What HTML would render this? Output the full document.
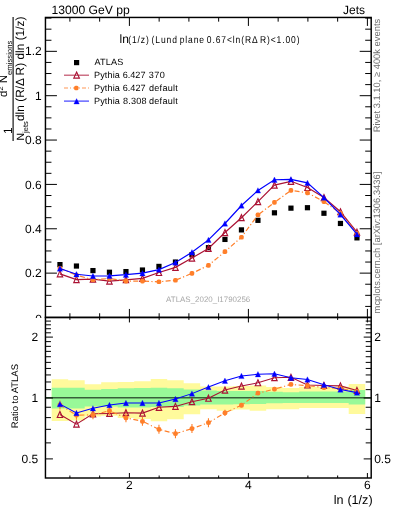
<!DOCTYPE html>
<html><head><meta charset="utf-8"><style>
html,body{margin:0;padding:0;background:#fff;width:393px;height:512px;overflow:hidden}
svg{display:block;will-change:transform;text-rendering:geometricPrecision}
</style></head><body>
<svg width="393" height="512" viewBox="0 0 393 512">
<rect width="393" height="512" fill="#fff"/>
<path d="M51.70,379.20 L68.20,379.20 L68.20,380.20 L84.70,380.20 L84.70,384.20 L101.20,384.20 L101.20,382.20 L117.70,382.20 L117.70,381.90 L134.20,381.90 L134.20,381.20 L150.70,381.20 L150.70,379.10 L167.20,379.10 L167.20,380.30 L183.70,380.30 L183.70,383.30 L200.20,383.30 L200.20,386.40 L216.70,386.40 L216.70,386.40 L233.20,386.40 L233.20,386.00 L249.70,386.00 L249.70,385.60 L266.20,385.60 L266.20,387.10 L282.70,387.10 L282.70,387.90 L299.20,387.90 L299.20,386.80 L315.70,386.80 L315.70,386.80 L332.20,386.80 L332.20,386.80 L348.70,386.80 L348.70,384.00 L365.20,384.00 L365.20,414.00 L348.70,414.00 L348.70,408.00 L332.20,408.00 L332.20,408.00 L315.70,408.00 L315.70,408.00 L299.20,408.00 L299.20,409.30 L282.70,409.30 L282.70,409.30 L266.20,409.30 L266.20,410.80 L249.70,410.80 L249.70,409.50 L233.20,409.50 L233.20,410.80 L216.70,410.80 L216.70,409.30 L200.20,409.30 L200.20,414.30 L183.70,414.30 L183.70,419.20 L167.20,419.20 L167.20,421.20 L150.70,421.20 L150.70,419.00 L134.20,419.00 L134.20,418.00 L117.70,418.00 L117.70,415.80 L101.20,415.80 L101.20,416.50 L84.70,416.50 L84.70,420.50 L68.20,420.50 L68.20,420.90 L51.70,420.90 Z" fill="#fffa9c"/>
<path d="M51.70,387.80 L68.20,387.80 L68.20,387.80 L84.70,387.80 L84.70,389.80 L101.20,389.80 L101.20,389.10 L117.70,389.10 L117.70,388.30 L134.20,388.30 L134.20,388.10 L150.70,388.10 L150.70,387.80 L167.20,387.80 L167.20,388.20 L183.70,388.20 L183.70,389.40 L200.20,389.40 L200.20,390.60 L216.70,390.60 L216.70,391.00 L233.20,391.00 L233.20,391.00 L249.70,391.00 L249.70,391.00 L266.20,391.00 L266.20,391.70 L282.70,391.70 L282.70,392.20 L299.20,392.20 L299.20,391.60 L315.70,391.60 L315.70,391.60 L332.20,391.60 L332.20,391.60 L348.70,391.60 L348.70,390.10 L365.20,390.10 L365.20,404.40 L348.70,404.40 L348.70,403.00 L332.20,403.00 L332.20,403.00 L315.70,403.00 L315.70,403.00 L299.20,403.00 L299.20,402.90 L282.70,402.90 L282.70,403.20 L266.20,403.20 L266.20,403.90 L249.70,403.90 L249.70,404.20 L233.20,404.20 L233.20,404.40 L216.70,404.40 L216.70,404.40 L200.20,404.40 L200.20,405.50 L183.70,405.50 L183.70,407.00 L167.20,407.00 L167.20,407.00 L150.70,407.00 L150.70,407.50 L134.20,407.50 L134.20,407.50 L117.70,407.50 L117.70,406.60 L101.20,406.60 L101.20,406.50 L84.70,406.50 L84.70,408.50 L68.20,408.50 L68.20,408.50 L51.70,408.50 Z" fill="#98f998"/>
<line x1="45.45" y1="397.7" x2="371.2" y2="397.7" stroke="#37603a" stroke-width="1.35"/>
<rect x="45.45" y="17.45" width="325.75" height="300.0" fill="none" stroke="#000" stroke-width="1.45"/>
<rect x="45.45" y="317.45" width="325.75" height="160.55" fill="none" stroke="#000" stroke-width="1.45"/>
<line x1="69.90" y1="317.45" x2="69.90" y2="313.25" stroke="#000" stroke-width="1"/>
<line x1="69.90" y1="17.45" x2="69.90" y2="21.65" stroke="#000" stroke-width="1"/>
<line x1="69.90" y1="317.45" x2="69.90" y2="319.95" stroke="#000" stroke-width="1"/>
<line x1="69.90" y1="478.0" x2="69.90" y2="475.5" stroke="#000" stroke-width="1"/>
<line x1="99.65" y1="317.45" x2="99.65" y2="313.25" stroke="#000" stroke-width="1"/>
<line x1="99.65" y1="17.45" x2="99.65" y2="21.65" stroke="#000" stroke-width="1"/>
<line x1="99.65" y1="317.45" x2="99.65" y2="319.95" stroke="#000" stroke-width="1"/>
<line x1="99.65" y1="478.0" x2="99.65" y2="475.5" stroke="#000" stroke-width="1"/>
<line x1="129.40" y1="317.45" x2="129.40" y2="308.95" stroke="#000" stroke-width="1"/>
<line x1="129.40" y1="17.45" x2="129.40" y2="25.95" stroke="#000" stroke-width="1"/>
<line x1="129.40" y1="317.45" x2="129.40" y2="322.45" stroke="#000" stroke-width="1"/>
<line x1="129.40" y1="478.0" x2="129.40" y2="473.0" stroke="#000" stroke-width="1"/>
<line x1="159.15" y1="317.45" x2="159.15" y2="313.25" stroke="#000" stroke-width="1"/>
<line x1="159.15" y1="17.45" x2="159.15" y2="21.65" stroke="#000" stroke-width="1"/>
<line x1="159.15" y1="317.45" x2="159.15" y2="319.95" stroke="#000" stroke-width="1"/>
<line x1="159.15" y1="478.0" x2="159.15" y2="475.5" stroke="#000" stroke-width="1"/>
<line x1="188.90" y1="317.45" x2="188.90" y2="313.25" stroke="#000" stroke-width="1"/>
<line x1="188.90" y1="17.45" x2="188.90" y2="21.65" stroke="#000" stroke-width="1"/>
<line x1="188.90" y1="317.45" x2="188.90" y2="319.95" stroke="#000" stroke-width="1"/>
<line x1="188.90" y1="478.0" x2="188.90" y2="475.5" stroke="#000" stroke-width="1"/>
<line x1="218.65" y1="317.45" x2="218.65" y2="313.25" stroke="#000" stroke-width="1"/>
<line x1="218.65" y1="17.45" x2="218.65" y2="21.65" stroke="#000" stroke-width="1"/>
<line x1="218.65" y1="317.45" x2="218.65" y2="319.95" stroke="#000" stroke-width="1"/>
<line x1="218.65" y1="478.0" x2="218.65" y2="475.5" stroke="#000" stroke-width="1"/>
<line x1="248.40" y1="317.45" x2="248.40" y2="308.95" stroke="#000" stroke-width="1"/>
<line x1="248.40" y1="17.45" x2="248.40" y2="25.95" stroke="#000" stroke-width="1"/>
<line x1="248.40" y1="317.45" x2="248.40" y2="322.45" stroke="#000" stroke-width="1"/>
<line x1="248.40" y1="478.0" x2="248.40" y2="473.0" stroke="#000" stroke-width="1"/>
<line x1="278.15" y1="317.45" x2="278.15" y2="313.25" stroke="#000" stroke-width="1"/>
<line x1="278.15" y1="17.45" x2="278.15" y2="21.65" stroke="#000" stroke-width="1"/>
<line x1="278.15" y1="317.45" x2="278.15" y2="319.95" stroke="#000" stroke-width="1"/>
<line x1="278.15" y1="478.0" x2="278.15" y2="475.5" stroke="#000" stroke-width="1"/>
<line x1="307.90" y1="317.45" x2="307.90" y2="313.25" stroke="#000" stroke-width="1"/>
<line x1="307.90" y1="17.45" x2="307.90" y2="21.65" stroke="#000" stroke-width="1"/>
<line x1="307.90" y1="317.45" x2="307.90" y2="319.95" stroke="#000" stroke-width="1"/>
<line x1="307.90" y1="478.0" x2="307.90" y2="475.5" stroke="#000" stroke-width="1"/>
<line x1="337.65" y1="317.45" x2="337.65" y2="313.25" stroke="#000" stroke-width="1"/>
<line x1="337.65" y1="17.45" x2="337.65" y2="21.65" stroke="#000" stroke-width="1"/>
<line x1="337.65" y1="317.45" x2="337.65" y2="319.95" stroke="#000" stroke-width="1"/>
<line x1="337.65" y1="478.0" x2="337.65" y2="475.5" stroke="#000" stroke-width="1"/>
<line x1="367.40" y1="317.45" x2="367.40" y2="308.95" stroke="#000" stroke-width="1"/>
<line x1="367.40" y1="17.45" x2="367.40" y2="25.95" stroke="#000" stroke-width="1"/>
<line x1="367.40" y1="317.45" x2="367.40" y2="322.45" stroke="#000" stroke-width="1"/>
<line x1="367.40" y1="478.0" x2="367.40" y2="473.0" stroke="#000" stroke-width="1"/>
<line x1="45.45" y1="317.50" x2="56.95" y2="317.50" stroke="#000" stroke-width="1"/>
<line x1="371.2" y1="317.50" x2="359.7" y2="317.50" stroke="#000" stroke-width="1"/>
<clipPath id="c0"><rect x="0" y="0" width="45" height="318"/></clipPath>
<text x="41.85" y="322.5" font-family="Liberation Sans, sans-serif" font-size="12" text-anchor="end" clip-path="url(#c0)">0</text>
<line x1="45.45" y1="306.41" x2="51.45" y2="306.41" stroke="#000" stroke-width="1"/>
<line x1="371.2" y1="306.41" x2="365.2" y2="306.41" stroke="#000" stroke-width="1"/>
<line x1="45.45" y1="295.32" x2="51.45" y2="295.32" stroke="#000" stroke-width="1"/>
<line x1="371.2" y1="295.32" x2="365.2" y2="295.32" stroke="#000" stroke-width="1"/>
<line x1="45.45" y1="284.23" x2="51.45" y2="284.23" stroke="#000" stroke-width="1"/>
<line x1="371.2" y1="284.23" x2="365.2" y2="284.23" stroke="#000" stroke-width="1"/>
<line x1="45.45" y1="273.14" x2="56.95" y2="273.14" stroke="#000" stroke-width="1"/>
<line x1="371.2" y1="273.14" x2="359.7" y2="273.14" stroke="#000" stroke-width="1"/>
<text x="41.650000000000006" y="277.24" font-family="Liberation Sans, sans-serif" font-size="12" text-anchor="end">0.2</text>
<line x1="45.45" y1="262.05" x2="51.45" y2="262.05" stroke="#000" stroke-width="1"/>
<line x1="371.2" y1="262.05" x2="365.2" y2="262.05" stroke="#000" stroke-width="1"/>
<line x1="45.45" y1="250.96" x2="51.45" y2="250.96" stroke="#000" stroke-width="1"/>
<line x1="371.2" y1="250.96" x2="365.2" y2="250.96" stroke="#000" stroke-width="1"/>
<line x1="45.45" y1="239.87" x2="51.45" y2="239.87" stroke="#000" stroke-width="1"/>
<line x1="371.2" y1="239.87" x2="365.2" y2="239.87" stroke="#000" stroke-width="1"/>
<line x1="45.45" y1="228.78" x2="56.95" y2="228.78" stroke="#000" stroke-width="1"/>
<line x1="371.2" y1="228.78" x2="359.7" y2="228.78" stroke="#000" stroke-width="1"/>
<text x="41.650000000000006" y="232.88" font-family="Liberation Sans, sans-serif" font-size="12" text-anchor="end">0.4</text>
<line x1="45.45" y1="217.69" x2="51.45" y2="217.69" stroke="#000" stroke-width="1"/>
<line x1="371.2" y1="217.69" x2="365.2" y2="217.69" stroke="#000" stroke-width="1"/>
<line x1="45.45" y1="206.60" x2="51.45" y2="206.60" stroke="#000" stroke-width="1"/>
<line x1="371.2" y1="206.60" x2="365.2" y2="206.60" stroke="#000" stroke-width="1"/>
<line x1="45.45" y1="195.51" x2="51.45" y2="195.51" stroke="#000" stroke-width="1"/>
<line x1="371.2" y1="195.51" x2="365.2" y2="195.51" stroke="#000" stroke-width="1"/>
<line x1="45.45" y1="184.42" x2="56.95" y2="184.42" stroke="#000" stroke-width="1"/>
<line x1="371.2" y1="184.42" x2="359.7" y2="184.42" stroke="#000" stroke-width="1"/>
<text x="41.650000000000006" y="188.52" font-family="Liberation Sans, sans-serif" font-size="12" text-anchor="end">0.6</text>
<line x1="45.45" y1="173.33" x2="51.45" y2="173.33" stroke="#000" stroke-width="1"/>
<line x1="371.2" y1="173.33" x2="365.2" y2="173.33" stroke="#000" stroke-width="1"/>
<line x1="45.45" y1="162.24" x2="51.45" y2="162.24" stroke="#000" stroke-width="1"/>
<line x1="371.2" y1="162.24" x2="365.2" y2="162.24" stroke="#000" stroke-width="1"/>
<line x1="45.45" y1="151.15" x2="51.45" y2="151.15" stroke="#000" stroke-width="1"/>
<line x1="371.2" y1="151.15" x2="365.2" y2="151.15" stroke="#000" stroke-width="1"/>
<line x1="45.45" y1="140.06" x2="56.95" y2="140.06" stroke="#000" stroke-width="1"/>
<line x1="371.2" y1="140.06" x2="359.7" y2="140.06" stroke="#000" stroke-width="1"/>
<text x="41.650000000000006" y="144.16" font-family="Liberation Sans, sans-serif" font-size="12" text-anchor="end">0.8</text>
<line x1="45.45" y1="128.97" x2="51.45" y2="128.97" stroke="#000" stroke-width="1"/>
<line x1="371.2" y1="128.97" x2="365.2" y2="128.97" stroke="#000" stroke-width="1"/>
<line x1="45.45" y1="117.88" x2="51.45" y2="117.88" stroke="#000" stroke-width="1"/>
<line x1="371.2" y1="117.88" x2="365.2" y2="117.88" stroke="#000" stroke-width="1"/>
<line x1="45.45" y1="106.79" x2="51.45" y2="106.79" stroke="#000" stroke-width="1"/>
<line x1="371.2" y1="106.79" x2="365.2" y2="106.79" stroke="#000" stroke-width="1"/>
<line x1="45.45" y1="95.70" x2="56.95" y2="95.70" stroke="#000" stroke-width="1"/>
<line x1="371.2" y1="95.70" x2="359.7" y2="95.70" stroke="#000" stroke-width="1"/>
<text x="41.650000000000006" y="99.80" font-family="Liberation Sans, sans-serif" font-size="12" text-anchor="end">1</text>
<line x1="45.45" y1="84.61" x2="51.45" y2="84.61" stroke="#000" stroke-width="1"/>
<line x1="371.2" y1="84.61" x2="365.2" y2="84.61" stroke="#000" stroke-width="1"/>
<line x1="45.45" y1="73.52" x2="51.45" y2="73.52" stroke="#000" stroke-width="1"/>
<line x1="371.2" y1="73.52" x2="365.2" y2="73.52" stroke="#000" stroke-width="1"/>
<line x1="45.45" y1="62.43" x2="51.45" y2="62.43" stroke="#000" stroke-width="1"/>
<line x1="371.2" y1="62.43" x2="365.2" y2="62.43" stroke="#000" stroke-width="1"/>
<line x1="45.45" y1="51.34" x2="56.95" y2="51.34" stroke="#000" stroke-width="1"/>
<line x1="371.2" y1="51.34" x2="359.7" y2="51.34" stroke="#000" stroke-width="1"/>
<text x="41.650000000000006" y="55.44" font-family="Liberation Sans, sans-serif" font-size="12" text-anchor="end">1.2</text>
<line x1="45.45" y1="40.25" x2="51.45" y2="40.25" stroke="#000" stroke-width="1"/>
<line x1="371.2" y1="40.25" x2="365.2" y2="40.25" stroke="#000" stroke-width="1"/>
<line x1="45.45" y1="29.16" x2="51.45" y2="29.16" stroke="#000" stroke-width="1"/>
<line x1="371.2" y1="29.16" x2="365.2" y2="29.16" stroke="#000" stroke-width="1"/>
<line x1="45.45" y1="18.07" x2="51.45" y2="18.07" stroke="#000" stroke-width="1"/>
<line x1="371.2" y1="18.07" x2="365.2" y2="18.07" stroke="#000" stroke-width="1"/>
<line x1="45.45" y1="458.90" x2="52.95" y2="458.90" stroke="#000" stroke-width="1"/>
<line x1="371.2" y1="458.90" x2="363.7" y2="458.90" stroke="#000" stroke-width="1"/>
<text x="38.150000000000006" y="462.50" font-family="Liberation Sans, sans-serif" font-size="12" text-anchor="end">0.5</text>
<text x="374.2" y="462.50" font-family="Liberation Sans, sans-serif" font-size="12">0.5</text>
<line x1="45.45" y1="442.88" x2="50.95" y2="442.88" stroke="#000" stroke-width="1"/>
<line x1="371.2" y1="442.88" x2="365.7" y2="442.88" stroke="#000" stroke-width="1"/>
<line x1="45.45" y1="429.34" x2="50.95" y2="429.34" stroke="#000" stroke-width="1"/>
<line x1="371.2" y1="429.34" x2="365.7" y2="429.34" stroke="#000" stroke-width="1"/>
<line x1="45.45" y1="417.61" x2="50.95" y2="417.61" stroke="#000" stroke-width="1"/>
<line x1="371.2" y1="417.61" x2="365.7" y2="417.61" stroke="#000" stroke-width="1"/>
<line x1="45.45" y1="407.26" x2="50.95" y2="407.26" stroke="#000" stroke-width="1"/>
<line x1="371.2" y1="407.26" x2="365.7" y2="407.26" stroke="#000" stroke-width="1"/>
<line x1="45.45" y1="398.00" x2="52.95" y2="398.00" stroke="#000" stroke-width="1"/>
<line x1="371.2" y1="398.00" x2="363.7" y2="398.00" stroke="#000" stroke-width="1"/>
<text x="38.150000000000006" y="401.60" font-family="Liberation Sans, sans-serif" font-size="12" text-anchor="end">1</text>
<text x="374.2" y="401.60" font-family="Liberation Sans, sans-serif" font-size="12">1</text>
<line x1="45.45" y1="389.63" x2="50.95" y2="389.63" stroke="#000" stroke-width="1"/>
<line x1="371.2" y1="389.63" x2="365.7" y2="389.63" stroke="#000" stroke-width="1"/>
<line x1="45.45" y1="381.98" x2="50.95" y2="381.98" stroke="#000" stroke-width="1"/>
<line x1="371.2" y1="381.98" x2="365.7" y2="381.98" stroke="#000" stroke-width="1"/>
<line x1="45.45" y1="374.95" x2="50.95" y2="374.95" stroke="#000" stroke-width="1"/>
<line x1="371.2" y1="374.95" x2="365.7" y2="374.95" stroke="#000" stroke-width="1"/>
<line x1="45.45" y1="368.44" x2="50.95" y2="368.44" stroke="#000" stroke-width="1"/>
<line x1="371.2" y1="368.44" x2="365.7" y2="368.44" stroke="#000" stroke-width="1"/>
<line x1="45.45" y1="362.38" x2="50.95" y2="362.38" stroke="#000" stroke-width="1"/>
<line x1="371.2" y1="362.38" x2="365.7" y2="362.38" stroke="#000" stroke-width="1"/>
<line x1="45.45" y1="356.71" x2="50.95" y2="356.71" stroke="#000" stroke-width="1"/>
<line x1="371.2" y1="356.71" x2="365.7" y2="356.71" stroke="#000" stroke-width="1"/>
<line x1="45.45" y1="351.38" x2="50.95" y2="351.38" stroke="#000" stroke-width="1"/>
<line x1="371.2" y1="351.38" x2="365.7" y2="351.38" stroke="#000" stroke-width="1"/>
<line x1="45.45" y1="346.36" x2="50.95" y2="346.36" stroke="#000" stroke-width="1"/>
<line x1="371.2" y1="346.36" x2="365.7" y2="346.36" stroke="#000" stroke-width="1"/>
<line x1="45.45" y1="341.61" x2="50.95" y2="341.61" stroke="#000" stroke-width="1"/>
<line x1="371.2" y1="341.61" x2="365.7" y2="341.61" stroke="#000" stroke-width="1"/>
<line x1="45.45" y1="337.10" x2="52.95" y2="337.10" stroke="#000" stroke-width="1"/>
<line x1="371.2" y1="337.10" x2="363.7" y2="337.10" stroke="#000" stroke-width="1"/>
<text x="38.150000000000006" y="340.70" font-family="Liberation Sans, sans-serif" font-size="12" text-anchor="end">2</text>
<text x="374.2" y="340.70" font-family="Liberation Sans, sans-serif" font-size="12">2</text>
<line x1="45.45" y1="332.81" x2="50.95" y2="332.81" stroke="#000" stroke-width="1"/>
<line x1="371.2" y1="332.81" x2="365.7" y2="332.81" stroke="#000" stroke-width="1"/>
<line x1="45.45" y1="328.73" x2="50.95" y2="328.73" stroke="#000" stroke-width="1"/>
<line x1="371.2" y1="328.73" x2="365.7" y2="328.73" stroke="#000" stroke-width="1"/>
<line x1="45.45" y1="324.82" x2="50.95" y2="324.82" stroke="#000" stroke-width="1"/>
<line x1="371.2" y1="324.82" x2="365.7" y2="324.82" stroke="#000" stroke-width="1"/>
<line x1="45.45" y1="321.08" x2="50.95" y2="321.08" stroke="#000" stroke-width="1"/>
<line x1="371.2" y1="321.08" x2="365.7" y2="321.08" stroke="#000" stroke-width="1"/>
<text x="129.40" y="489" font-family="Liberation Sans, sans-serif" font-size="12" text-anchor="middle">2</text>
<text x="248.40" y="489" font-family="Liberation Sans, sans-serif" font-size="12" text-anchor="middle">4</text>
<text x="367.40" y="489" font-family="Liberation Sans, sans-serif" font-size="12" text-anchor="middle">6</text>
<text x="372.6" y="503.6" font-family="Liberation Sans, sans-serif" font-size="12.6" word-spacing="0.3" text-anchor="end">ln (1/z)</text>
<rect x="57.35" y="262.00" width="5.2" height="5.2" fill="#000"/>
<rect x="73.85" y="263.44" width="5.2" height="5.2" fill="#000"/>
<rect x="90.35" y="267.99" width="5.2" height="5.2" fill="#000"/>
<rect x="106.85" y="269.65" width="5.2" height="5.2" fill="#000"/>
<rect x="123.35" y="268.99" width="5.2" height="5.2" fill="#000"/>
<rect x="139.85" y="267.43" width="5.2" height="5.2" fill="#000"/>
<rect x="156.35" y="263.80" width="5.2" height="5.2" fill="#000"/>
<rect x="172.85" y="259.45" width="5.2" height="5.2" fill="#000"/>
<rect x="189.35" y="252.13" width="5.2" height="5.2" fill="#000"/>
<rect x="205.85" y="245.03" width="5.2" height="5.2" fill="#000"/>
<rect x="222.35" y="236.83" width="5.2" height="5.2" fill="#000"/>
<rect x="238.85" y="227.29" width="5.2" height="5.2" fill="#000"/>
<rect x="255.35" y="217.75" width="5.2" height="5.2" fill="#000"/>
<rect x="271.85" y="210.21" width="5.2" height="5.2" fill="#000"/>
<rect x="288.35" y="205.55" width="5.2" height="5.2" fill="#000"/>
<rect x="304.85" y="205.11" width="5.2" height="5.2" fill="#000"/>
<rect x="321.35" y="210.65" width="5.2" height="5.2" fill="#000"/>
<rect x="337.85" y="220.86" width="5.2" height="5.2" fill="#000"/>
<rect x="354.35" y="235.27" width="5.2" height="5.2" fill="#000"/>
<polyline points="59.95,273.81 76.45,279.57 92.95,279.13 109.45,281.12 125.95,279.79 142.45,278.31 158.95,272.47 175.45,267.37 191.95,258.06 208.45,248.41 224.95,232.55 241.45,217.69 257.95,201.59 274.45,185.09 290.95,181.31 307.45,187.53 323.95,197.59 340.45,211.79 356.95,232.20" fill="none" stroke="#aa1133" stroke-width="1.2"/>
<polygon points="59.95,270.81 62.65,276.81 57.25,276.81" fill="none" stroke="#aa1133" stroke-width="1.15" stroke-linejoin="miter"/>
<polygon points="76.45,276.57 79.15,282.57 73.75,282.57" fill="none" stroke="#aa1133" stroke-width="1.15" stroke-linejoin="miter"/>
<polygon points="92.95,276.13 95.65,282.13 90.25,282.13" fill="none" stroke="#aa1133" stroke-width="1.15" stroke-linejoin="miter"/>
<polygon points="109.45,278.12 112.15,284.12 106.75,284.12" fill="none" stroke="#aa1133" stroke-width="1.15" stroke-linejoin="miter"/>
<polygon points="125.95,276.79 128.65,282.79 123.25,282.79" fill="none" stroke="#aa1133" stroke-width="1.15" stroke-linejoin="miter"/>
<polygon points="142.45,275.31 145.15,281.31 139.75,281.31" fill="none" stroke="#aa1133" stroke-width="1.15" stroke-linejoin="miter"/>
<polygon points="158.95,269.47 161.65,275.47 156.25,275.47" fill="none" stroke="#aa1133" stroke-width="1.15" stroke-linejoin="miter"/>
<polygon points="175.45,264.37 178.15,270.37 172.75,270.37" fill="none" stroke="#aa1133" stroke-width="1.15" stroke-linejoin="miter"/>
<polygon points="191.95,255.06 194.65,261.06 189.25,261.06" fill="none" stroke="#aa1133" stroke-width="1.15" stroke-linejoin="miter"/>
<polygon points="208.45,245.41 211.15,251.41 205.75,251.41" fill="none" stroke="#aa1133" stroke-width="1.15" stroke-linejoin="miter"/>
<polygon points="224.95,229.55 227.65,235.55 222.25,235.55" fill="none" stroke="#aa1133" stroke-width="1.15" stroke-linejoin="miter"/>
<polygon points="241.45,214.69 244.15,220.69 238.75,220.69" fill="none" stroke="#aa1133" stroke-width="1.15" stroke-linejoin="miter"/>
<polygon points="257.95,198.59 260.65,204.59 255.25,204.59" fill="none" stroke="#aa1133" stroke-width="1.15" stroke-linejoin="miter"/>
<polygon points="274.45,182.09 277.15,188.09 271.75,188.09" fill="none" stroke="#aa1133" stroke-width="1.15" stroke-linejoin="miter"/>
<polygon points="290.95,178.31 293.65,184.31 288.25,184.31" fill="none" stroke="#aa1133" stroke-width="1.15" stroke-linejoin="miter"/>
<polygon points="307.45,184.53 310.15,190.53 304.75,190.53" fill="none" stroke="#aa1133" stroke-width="1.15" stroke-linejoin="miter"/>
<polygon points="323.95,194.59 326.65,200.59 321.25,200.59" fill="none" stroke="#aa1133" stroke-width="1.15" stroke-linejoin="miter"/>
<polygon points="340.45,208.79 343.15,214.79 337.75,214.79" fill="none" stroke="#aa1133" stroke-width="1.15" stroke-linejoin="miter"/>
<polygon points="356.95,229.20 359.65,235.20 354.25,235.20" fill="none" stroke="#aa1133" stroke-width="1.15" stroke-linejoin="miter"/>
<polyline points="59.95,268.26 76.45,275.14 92.95,279.79 109.45,278.46 125.95,281.12 142.45,281.12 158.95,281.79 175.45,280.24 191.95,273.36 208.45,265.38 224.95,251.63 241.45,237.21 257.95,214.90 274.45,202.39 290.95,190.41 307.45,192.85 323.95,201.59 340.45,213.25 356.95,233.22" fill="none" stroke="#ff7f2a" stroke-width="1.2" stroke-dasharray="5,2.3,1.2,2.3"/>
<rect x="57.65" y="265.96" width="4.6" height="4.6" rx="1.6" fill="#ff7f2a"/>
<rect x="74.15" y="272.84" width="4.6" height="4.6" rx="1.6" fill="#ff7f2a"/>
<rect x="90.65" y="277.49" width="4.6" height="4.6" rx="1.6" fill="#ff7f2a"/>
<rect x="107.15" y="276.16" width="4.6" height="4.6" rx="1.6" fill="#ff7f2a"/>
<rect x="123.65" y="278.82" width="4.6" height="4.6" rx="1.6" fill="#ff7f2a"/>
<rect x="140.15" y="278.82" width="4.6" height="4.6" rx="1.6" fill="#ff7f2a"/>
<rect x="156.65" y="279.49" width="4.6" height="4.6" rx="1.6" fill="#ff7f2a"/>
<rect x="173.15" y="277.94" width="4.6" height="4.6" rx="1.6" fill="#ff7f2a"/>
<rect x="189.65" y="271.06" width="4.6" height="4.6" rx="1.6" fill="#ff7f2a"/>
<rect x="206.15" y="263.08" width="4.6" height="4.6" rx="1.6" fill="#ff7f2a"/>
<rect x="222.65" y="249.33" width="4.6" height="4.6" rx="1.6" fill="#ff7f2a"/>
<rect x="239.15" y="234.91" width="4.6" height="4.6" rx="1.6" fill="#ff7f2a"/>
<rect x="255.65" y="212.60" width="4.6" height="4.6" rx="1.6" fill="#ff7f2a"/>
<rect x="272.15" y="200.09" width="4.6" height="4.6" rx="1.6" fill="#ff7f2a"/>
<rect x="288.65" y="188.11" width="4.6" height="4.6" rx="1.6" fill="#ff7f2a"/>
<rect x="305.15" y="190.55" width="4.6" height="4.6" rx="1.6" fill="#ff7f2a"/>
<rect x="321.65" y="199.29" width="4.6" height="4.6" rx="1.6" fill="#ff7f2a"/>
<rect x="338.15" y="210.95" width="4.6" height="4.6" rx="1.6" fill="#ff7f2a"/>
<rect x="354.65" y="230.92" width="4.6" height="4.6" rx="1.6" fill="#ff7f2a"/>
<polyline points="59.95,268.48 76.45,274.25 92.95,276.02 109.45,275.80 125.95,274.69 142.45,273.21 158.95,269.59 175.45,262.49 191.95,252.29 208.45,239.87 224.95,223.46 241.45,205.49 257.95,190.41 274.45,179.76 290.95,179.32 307.45,182.87 323.95,197.59 340.45,214.50 356.95,234.19" fill="none" stroke="#0000ff" stroke-width="1.2"/>
<polygon points="59.95,265.78 62.65,271.18 57.25,271.18" fill="#0000ff" stroke="#0000ff" stroke-width="0.3" stroke-linejoin="miter"/>
<polygon points="76.45,271.55 79.15,276.95 73.75,276.95" fill="#0000ff" stroke="#0000ff" stroke-width="0.3" stroke-linejoin="miter"/>
<polygon points="92.95,273.32 95.65,278.72 90.25,278.72" fill="#0000ff" stroke="#0000ff" stroke-width="0.3" stroke-linejoin="miter"/>
<polygon points="109.45,273.10 112.15,278.50 106.75,278.50" fill="#0000ff" stroke="#0000ff" stroke-width="0.3" stroke-linejoin="miter"/>
<polygon points="125.95,271.99 128.65,277.39 123.25,277.39" fill="#0000ff" stroke="#0000ff" stroke-width="0.3" stroke-linejoin="miter"/>
<polygon points="142.45,270.51 145.15,275.91 139.75,275.91" fill="#0000ff" stroke="#0000ff" stroke-width="0.3" stroke-linejoin="miter"/>
<polygon points="158.95,266.89 161.65,272.29 156.25,272.29" fill="#0000ff" stroke="#0000ff" stroke-width="0.3" stroke-linejoin="miter"/>
<polygon points="175.45,259.79 178.15,265.19 172.75,265.19" fill="#0000ff" stroke="#0000ff" stroke-width="0.3" stroke-linejoin="miter"/>
<polygon points="191.95,249.59 194.65,254.99 189.25,254.99" fill="#0000ff" stroke="#0000ff" stroke-width="0.3" stroke-linejoin="miter"/>
<polygon points="208.45,237.17 211.15,242.57 205.75,242.57" fill="#0000ff" stroke="#0000ff" stroke-width="0.3" stroke-linejoin="miter"/>
<polygon points="224.95,220.76 227.65,226.16 222.25,226.16" fill="#0000ff" stroke="#0000ff" stroke-width="0.3" stroke-linejoin="miter"/>
<polygon points="241.45,202.79 244.15,208.19 238.75,208.19" fill="#0000ff" stroke="#0000ff" stroke-width="0.3" stroke-linejoin="miter"/>
<polygon points="257.95,187.71 260.65,193.11 255.25,193.11" fill="#0000ff" stroke="#0000ff" stroke-width="0.3" stroke-linejoin="miter"/>
<polygon points="274.45,177.06 277.15,182.46 271.75,182.46" fill="#0000ff" stroke="#0000ff" stroke-width="0.3" stroke-linejoin="miter"/>
<polygon points="290.95,176.62 293.65,182.02 288.25,182.02" fill="#0000ff" stroke="#0000ff" stroke-width="0.3" stroke-linejoin="miter"/>
<polygon points="307.45,180.17 310.15,185.57 304.75,185.57" fill="#0000ff" stroke="#0000ff" stroke-width="0.3" stroke-linejoin="miter"/>
<polygon points="323.95,194.89 326.65,200.29 321.25,200.29" fill="#0000ff" stroke="#0000ff" stroke-width="0.3" stroke-linejoin="miter"/>
<polygon points="340.45,211.80 343.15,217.20 337.75,217.20" fill="#0000ff" stroke="#0000ff" stroke-width="0.3" stroke-linejoin="miter"/>
<polygon points="356.95,231.49 359.65,236.89 354.25,236.89" fill="#0000ff" stroke="#0000ff" stroke-width="0.3" stroke-linejoin="miter"/>
<polyline points="59.95,414.48 76.45,424.10 92.95,413.84 109.45,413.42 125.95,412.69 142.45,413.11 158.95,407.35 175.45,406.38 191.95,401.68 208.45,398.26 224.95,390.11 241.45,386.10 257.95,382.79 274.45,377.69 290.95,377.35 307.45,384.96 323.95,385.42 340.45,385.87 356.95,390.51" fill="none" stroke="#aa1133" stroke-width="1.05"/>
<polygon points="59.95,411.48 62.65,417.48 57.25,417.48" fill="none" stroke="#aa1133" stroke-width="1.15" stroke-linejoin="miter"/>
<polygon points="76.45,421.10 79.15,427.10 73.75,427.10" fill="none" stroke="#aa1133" stroke-width="1.15" stroke-linejoin="miter"/>
<polygon points="92.95,410.84 95.65,416.84 90.25,416.84" fill="none" stroke="#aa1133" stroke-width="1.15" stroke-linejoin="miter"/>
<polygon points="109.45,410.42 112.15,416.42 106.75,416.42" fill="none" stroke="#aa1133" stroke-width="1.15" stroke-linejoin="miter"/>
<polygon points="125.95,409.69 128.65,415.69 123.25,415.69" fill="none" stroke="#aa1133" stroke-width="1.15" stroke-linejoin="miter"/>
<polygon points="142.45,410.11 145.15,416.11 139.75,416.11" fill="none" stroke="#aa1133" stroke-width="1.15" stroke-linejoin="miter"/>
<polygon points="158.95,404.35 161.65,410.35 156.25,410.35" fill="none" stroke="#aa1133" stroke-width="1.15" stroke-linejoin="miter"/>
<polygon points="175.45,403.38 178.15,409.38 172.75,409.38" fill="none" stroke="#aa1133" stroke-width="1.15" stroke-linejoin="miter"/>
<polygon points="191.95,398.68 194.65,404.68 189.25,404.68" fill="none" stroke="#aa1133" stroke-width="1.15" stroke-linejoin="miter"/>
<polygon points="208.45,395.26 211.15,401.26 205.75,401.26" fill="none" stroke="#aa1133" stroke-width="1.15" stroke-linejoin="miter"/>
<polygon points="224.95,387.11 227.65,393.11 222.25,393.11" fill="none" stroke="#aa1133" stroke-width="1.15" stroke-linejoin="miter"/>
<polygon points="241.45,383.10 244.15,389.10 238.75,389.10" fill="none" stroke="#aa1133" stroke-width="1.15" stroke-linejoin="miter"/>
<polygon points="257.95,379.79 260.65,385.79 255.25,385.79" fill="none" stroke="#aa1133" stroke-width="1.15" stroke-linejoin="miter"/>
<polygon points="274.45,374.69 277.15,380.69 271.75,380.69" fill="none" stroke="#aa1133" stroke-width="1.15" stroke-linejoin="miter"/>
<polygon points="290.95,374.35 293.65,380.35 288.25,380.35" fill="none" stroke="#aa1133" stroke-width="1.15" stroke-linejoin="miter"/>
<polygon points="307.45,381.96 310.15,387.96 304.75,387.96" fill="none" stroke="#aa1133" stroke-width="1.15" stroke-linejoin="miter"/>
<polygon points="323.95,382.42 326.65,388.42 321.25,388.42" fill="none" stroke="#aa1133" stroke-width="1.15" stroke-linejoin="miter"/>
<polygon points="340.45,382.87 343.15,388.87 337.75,388.87" fill="none" stroke="#aa1133" stroke-width="1.15" stroke-linejoin="miter"/>
<polygon points="356.95,387.51 359.65,393.51 354.25,393.51" fill="none" stroke="#aa1133" stroke-width="1.15" stroke-linejoin="miter"/>
<polyline points="59.95,404.94 76.45,415.22 92.95,414.80 109.45,410.74 125.95,417.83 142.45,421.31 158.95,429.34 175.45,433.71 191.95,428.59 208.45,422.69 224.95,412.90 241.45,405.23 257.95,393.21 274.45,389.15 290.95,384.43 307.45,385.72 323.95,387.50 340.45,388.51 356.95,391.56" fill="none" stroke="#ff7f2a" stroke-width="1.1" stroke-dasharray="5,2.5,1.2,2.5"/>
<line x1="59.95" y1="400.44" x2="59.95" y2="409.44" stroke="#ff7f2a" stroke-width="1.1"/>
<rect x="57.55" y="402.54" width="4.8" height="4.8" rx="2" fill="#ff7f2a"/>
<line x1="76.45" y1="410.72" x2="76.45" y2="419.72" stroke="#ff7f2a" stroke-width="1.1"/>
<rect x="74.05" y="412.82" width="4.8" height="4.8" rx="2" fill="#ff7f2a"/>
<line x1="92.95" y1="410.30" x2="92.95" y2="419.30" stroke="#ff7f2a" stroke-width="1.1"/>
<rect x="90.55" y="412.40" width="4.8" height="4.8" rx="2" fill="#ff7f2a"/>
<line x1="109.45" y1="406.24" x2="109.45" y2="415.24" stroke="#ff7f2a" stroke-width="1.1"/>
<rect x="107.05" y="408.34" width="4.8" height="4.8" rx="2" fill="#ff7f2a"/>
<line x1="125.95" y1="413.33" x2="125.95" y2="422.33" stroke="#ff7f2a" stroke-width="1.1"/>
<rect x="123.55" y="415.43" width="4.8" height="4.8" rx="2" fill="#ff7f2a"/>
<line x1="142.45" y1="416.81" x2="142.45" y2="425.81" stroke="#ff7f2a" stroke-width="1.1"/>
<rect x="140.05" y="418.91" width="4.8" height="4.8" rx="2" fill="#ff7f2a"/>
<line x1="158.95" y1="424.84" x2="158.95" y2="433.84" stroke="#ff7f2a" stroke-width="1.1"/>
<rect x="156.55" y="426.94" width="4.8" height="4.8" rx="2" fill="#ff7f2a"/>
<line x1="175.45" y1="429.21" x2="175.45" y2="438.21" stroke="#ff7f2a" stroke-width="1.1"/>
<rect x="173.05" y="431.31" width="4.8" height="4.8" rx="2" fill="#ff7f2a"/>
<line x1="191.95" y1="424.09" x2="191.95" y2="433.09" stroke="#ff7f2a" stroke-width="1.1"/>
<rect x="189.55" y="426.19" width="4.8" height="4.8" rx="2" fill="#ff7f2a"/>
<line x1="208.45" y1="418.19" x2="208.45" y2="427.19" stroke="#ff7f2a" stroke-width="1.1"/>
<rect x="206.05" y="420.29" width="4.8" height="4.8" rx="2" fill="#ff7f2a"/>
<line x1="224.95" y1="409.70" x2="224.95" y2="416.10" stroke="#ff7f2a" stroke-width="1.1"/>
<rect x="222.55" y="410.50" width="4.8" height="4.8" rx="2" fill="#ff7f2a"/>
<rect x="239.05" y="402.83" width="4.8" height="4.8" rx="2" fill="#ff7f2a"/>
<rect x="255.55" y="390.81" width="4.8" height="4.8" rx="2" fill="#ff7f2a"/>
<rect x="272.05" y="386.75" width="4.8" height="4.8" rx="2" fill="#ff7f2a"/>
<rect x="288.55" y="382.03" width="4.8" height="4.8" rx="2" fill="#ff7f2a"/>
<rect x="305.05" y="383.32" width="4.8" height="4.8" rx="2" fill="#ff7f2a"/>
<rect x="321.55" y="385.10" width="4.8" height="4.8" rx="2" fill="#ff7f2a"/>
<rect x="338.05" y="386.11" width="4.8" height="4.8" rx="2" fill="#ff7f2a"/>
<rect x="354.55" y="389.16" width="4.8" height="4.8" rx="2" fill="#ff7f2a"/>
<polyline points="59.95,404.09 76.45,413.01 92.95,408.34 109.45,405.04 125.95,402.97 142.45,402.97 158.95,402.97 175.45,398.97 191.95,393.63 208.45,387.11 224.95,380.82 241.45,375.90 257.95,374.21 274.45,373.81 290.95,377.69 307.45,379.46 323.95,384.81 340.45,389.47 356.95,392.63" fill="none" stroke="#0000ff" stroke-width="1.05"/>
<polygon points="59.95,401.39 62.65,406.79 57.25,406.79" fill="#0000ff" stroke="#0000ff" stroke-width="0.3" stroke-linejoin="miter"/>
<polygon points="76.45,410.31 79.15,415.71 73.75,415.71" fill="#0000ff" stroke="#0000ff" stroke-width="0.3" stroke-linejoin="miter"/>
<polygon points="92.95,405.64 95.65,411.04 90.25,411.04" fill="#0000ff" stroke="#0000ff" stroke-width="0.3" stroke-linejoin="miter"/>
<polygon points="109.45,402.34 112.15,407.74 106.75,407.74" fill="#0000ff" stroke="#0000ff" stroke-width="0.3" stroke-linejoin="miter"/>
<polygon points="125.95,400.27 128.65,405.67 123.25,405.67" fill="#0000ff" stroke="#0000ff" stroke-width="0.3" stroke-linejoin="miter"/>
<polygon points="142.45,400.27 145.15,405.67 139.75,405.67" fill="#0000ff" stroke="#0000ff" stroke-width="0.3" stroke-linejoin="miter"/>
<polygon points="158.95,400.27 161.65,405.67 156.25,405.67" fill="#0000ff" stroke="#0000ff" stroke-width="0.3" stroke-linejoin="miter"/>
<polygon points="175.45,396.27 178.15,401.67 172.75,401.67" fill="#0000ff" stroke="#0000ff" stroke-width="0.3" stroke-linejoin="miter"/>
<polygon points="191.95,390.93 194.65,396.33 189.25,396.33" fill="#0000ff" stroke="#0000ff" stroke-width="0.3" stroke-linejoin="miter"/>
<polygon points="208.45,384.41 211.15,389.81 205.75,389.81" fill="#0000ff" stroke="#0000ff" stroke-width="0.3" stroke-linejoin="miter"/>
<polygon points="224.95,378.12 227.65,383.52 222.25,383.52" fill="#0000ff" stroke="#0000ff" stroke-width="0.3" stroke-linejoin="miter"/>
<polygon points="241.45,373.20 244.15,378.60 238.75,378.60" fill="#0000ff" stroke="#0000ff" stroke-width="0.3" stroke-linejoin="miter"/>
<polygon points="257.95,371.51 260.65,376.91 255.25,376.91" fill="#0000ff" stroke="#0000ff" stroke-width="0.3" stroke-linejoin="miter"/>
<polygon points="274.45,371.11 277.15,376.51 271.75,376.51" fill="#0000ff" stroke="#0000ff" stroke-width="0.3" stroke-linejoin="miter"/>
<polygon points="290.95,374.99 293.65,380.39 288.25,380.39" fill="#0000ff" stroke="#0000ff" stroke-width="0.3" stroke-linejoin="miter"/>
<polygon points="307.45,376.76 310.15,382.16 304.75,382.16" fill="#0000ff" stroke="#0000ff" stroke-width="0.3" stroke-linejoin="miter"/>
<polygon points="323.95,382.11 326.65,387.51 321.25,387.51" fill="#0000ff" stroke="#0000ff" stroke-width="0.3" stroke-linejoin="miter"/>
<polygon points="340.45,386.77 343.15,392.17 337.75,392.17" fill="#0000ff" stroke="#0000ff" stroke-width="0.3" stroke-linejoin="miter"/>
<polygon points="356.95,389.93 359.65,395.33 354.25,395.33" fill="#0000ff" stroke="#0000ff" stroke-width="0.3" stroke-linejoin="miter"/>
<rect x="74" y="60" width="5.2" height="5.2" fill="#000"/>
<text x="94.48" y="64.8" font-family="Liberation Sans, sans-serif" font-size="9.1" textLength="28.95" lengthAdjust="spacing">ATLAS</text>
<line x1="64" y1="75.2" x2="89" y2="75.2" stroke="#aa1133" stroke-width="1.2" opacity="0.75"/>
<polygon points="76.60,72.10 79.40,78.10 73.80,78.10" fill="none" stroke="#aa1133" stroke-width="1.15" stroke-linejoin="miter"/>
<text x="93.95" y="77.7" font-family="Liberation Sans, sans-serif" font-size="9.1" textLength="25.96" lengthAdjust="spacing">Pythia</text>
<text x="122.64" y="77.7" font-family="Liberation Sans, sans-serif" font-size="9.1" textLength="22.83" lengthAdjust="spacing">6.427</text>
<text x="148.65" y="77.7" font-family="Liberation Sans, sans-serif" font-size="9.1" textLength="16.21" lengthAdjust="spacing">370</text>
<line x1="64" y1="88" x2="89" y2="88" stroke="#ff7f2a" stroke-width="1" stroke-dasharray="4,2,1,2" opacity="0.8"/>
<rect x="74.1" y="85.8" width="4.4" height="4.4" rx="1.5" fill="#ff7f2a"/>
<text x="93.95" y="90.8" font-family="Liberation Sans, sans-serif" font-size="9.1" textLength="25.96" lengthAdjust="spacing">Pythia</text>
<text x="122.64" y="90.8" font-family="Liberation Sans, sans-serif" font-size="9.1" textLength="23.03" lengthAdjust="spacing">6.427</text>
<text x="148.92" y="90.8" font-family="Liberation Sans, sans-serif" font-size="9.1" textLength="28.95" lengthAdjust="spacing">default</text>
<line x1="64" y1="101.1" x2="89" y2="101.1" stroke="#0000ff" stroke-width="1.2" opacity="0.75"/>
<polygon points="76.60,98.60 79.30,104.00 73.90,104.00" fill="#0000ff" stroke="#0000ff" stroke-width="0.3" stroke-linejoin="miter"/>
<text x="93.95" y="103.6" font-family="Liberation Sans, sans-serif" font-size="9.1" textLength="25.96" lengthAdjust="spacing">Pythia</text>
<text x="122.91" y="103.6" font-family="Liberation Sans, sans-serif" font-size="9.1" textLength="23.59" lengthAdjust="spacing">8.308</text>
<text x="148.92" y="103.6" font-family="Liberation Sans, sans-serif" font-size="9.1" textLength="28.95" lengthAdjust="spacing">default</text>
<text x="51.4" y="13.5" font-family="Liberation Sans, sans-serif" font-size="12.15">13000 GeV pp</text>
<text x="365" y="13.5" font-family="Liberation Sans, sans-serif" font-size="12" text-anchor="end">Jets</text>
<text x="119.6" y="42.8" font-family="Liberation Sans, sans-serif" font-size="12">ln</text>
<text transform="translate(128.2,42.8) scale(0.85,1)" font-family="Liberation Sans, sans-serif" font-size="10" letter-spacing="1.05" word-spacing="-1.6">(1/z) (Lund plane 0.67&lt;ln(R&#916; R)&lt;1.00)</text>
<text x="208.2" y="301.5" font-family="Liberation Sans, sans-serif" font-size="7.95" fill="#a8a8a8" text-anchor="middle">ATLAS_2020_I1790256</text>
<text transform="translate(380.0,132.3) rotate(-90)" font-family="Liberation Sans, sans-serif" font-size="9.4" fill="#6e6e6e">Rivet 3.1.10, &#8805; 400k events</text>
<text transform="translate(380.0,313.4) rotate(-90)" font-family="Liberation Sans, sans-serif" font-size="9.4" fill="#6e6e6e">mcplots.cern.ch [arXiv:1306.3436]</text>
<text transform="translate(18.4,396.1) rotate(-90)" font-family="Liberation Sans, sans-serif" font-size="9.5" text-anchor="middle">Ratio to ATLAS</text>
<line x1="13.1" y1="17" x2="13.1" y2="141" stroke="#000" stroke-width="1.1"/>
<text transform="translate(24.3,121) rotate(-90)" font-family="Liberation Sans, sans-serif" font-size="11.9">dln (R/&#916; R) dln (1/z)</text>
<text transform="translate(7.4,97) rotate(-90)" font-family="Liberation Sans, sans-serif" font-size="11.5">d<tspan font-size="7.5" dy="-4.5">2</tspan><tspan dy="4.5"> N</tspan><tspan font-size="7.7" dy="4.6">emissions</tspan></text>
<text transform="translate(12.3,134) rotate(-90)" font-family="Liberation Sans, sans-serif" font-size="12">1</text>
<text transform="translate(24.3,140.5) rotate(-90)" font-family="Liberation Sans, sans-serif" font-size="10.5">N<tspan font-size="7.5" dy="3.6">jets</tspan></text>
</svg></body></html>
